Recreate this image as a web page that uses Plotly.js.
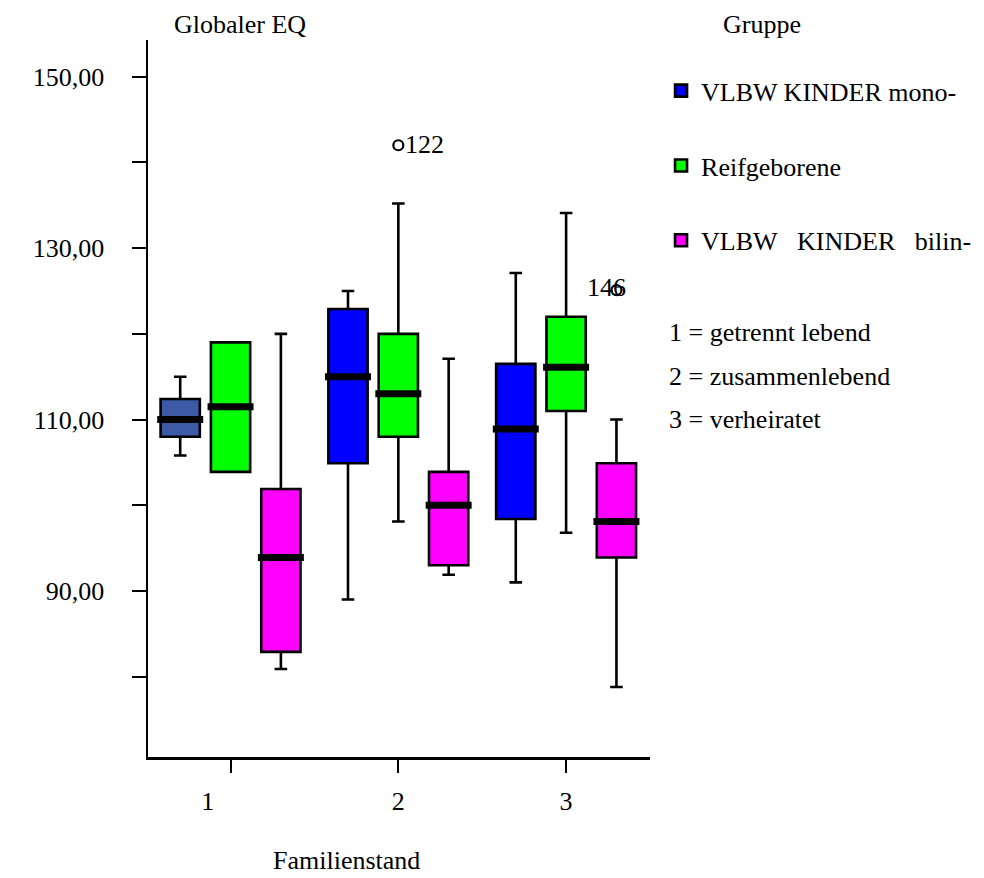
<!DOCTYPE html>
<html>
<head>
<meta charset="utf-8">
<script src="https://cdn.plot.ly/plotly-3.0.1.min.js"></script>
<style>html,body{margin:0;padding:0;background:#fff;}#chart{width:984px;height:878px;}</style>
</head>
<body>
<div id="chart"></div>
<script>
// Categories (Familienstand)
const categories = [1, 2, 3];
const categoryLabels = ["1", "2", "3"];
const categoryNotes = ["1 = getrennt lebend", "2 = zusammenlebend", "3 = verheiratet"];

// Series names (Gruppe)
const seriesNames = ["VLBW KINDER mono-", "Reifgeborene", "VLBW\u00a0\u00a0\u00a0KINDER\u00a0\u00a0\u00a0bilin-"];

// Box statistics per series, one entry per category
const monoLow    = [105.8,  89.0,  91.0];
const monoQ1     = [108.0, 104.9,  98.4];
const monoMedian = [110.0, 115.0, 108.9];
const monoQ3     = [112.4, 122.9, 116.5];
const monoHigh   = [115.0, 125.0, 127.1];

const reifLow    = [103.9,  98.1,  96.8];
const reifQ1     = [103.9, 108.0, 111.0];
const reifMedian = [111.5, 113.0, 116.1];
const reifQ3     = [119.0, 120.0, 122.0];
const reifHigh   = [119.0, 135.2, 134.1];

const biliLow    = [ 80.9,  91.9,  78.8];
const biliQ1     = [ 82.9,  93.0,  93.9];
const biliMedian = [ 93.9, 100.0,  98.1];
const biliQ3     = [101.9, 103.9, 104.9];
const biliHigh   = [120.0, 117.1, 110.0];

// Outliers: series index, category, value, case label
const outlierSeries   = [1, 2];
const outlierCategory = [2, 3];
const outlierValue    = [142.0, 125.1];
const outlierLabel    = ["122", "146"];

// Y ticks
const yTickVals = [80, 90, 100, 110, 120, 130, 140, 150];
const yTickText = ["", "90,00", "", "110,00", "", "130,00", "", "150,00"];

// ---- styling ----
const FONT = "Liberation Serif";
const FS = 26;
const fills = ["#0000ff", "#00ff00", "#ff00ff"];
const firstMonoFill = "#3c5aa6";
const offsets = [-0.30, 0, 0.30];
const boxWidth = 0.234;
const medWidth = boxWidth + 0.04;

const stats = [
  {low: monoLow, q1: monoQ1, med: monoMedian, q3: monoQ3, high: monoHigh},
  {low: reifLow, q1: reifQ1, med: reifMedian, q3: reifQ3, high: reifHigh},
  {low: biliLow, q1: biliQ1, med: biliMedian, q3: biliQ3, high: biliHigh}
];

function pick(arr, idx) { return idx.map(i => arr[i]); }

const traces = [];
const medianTraces = [];
stats.forEach((s, si) => {
  let parts;
  if (si === 0) {
    parts = [{idx: [0], fill: firstMonoFill, legend: false}, {idx: [1, 2], fill: fills[0], legend: true}];
  } else {
    parts = [{idx: [0, 1, 2], fill: fills[si], legend: true}];
  }
  parts.forEach(p => {
    traces.push({
      type: "box",
      name: seriesNames[si],
      legendgroup: "g" + si,
      legendrank: si + 1,
      showlegend: p.legend,
      x: p.idx.map(i => categories[i] + offsets[si]),
      q1: pick(s.q1, p.idx),
      median: pick(s.med, p.idx),
      q3: pick(s.q3, p.idx),
      lowerfence: pick(s.low, p.idx),
      upperfence: pick(s.high, p.idx),
      width: boxWidth,
      whiskerwidth: 0.32,
      fillcolor: p.fill,
      line: {color: "#000000", width: 2.6},
      boxpoints: false,
      hoverinfo: "skip"
    });
  });
  // thick median bar
  medianTraces.push({
    type: "box",
    showlegend: false,
    x: categories.map(c => c + offsets[si]),
    q1: s.med, median: s.med, q3: s.med,
    lowerfence: s.med, upperfence: s.med,
    width: medWidth,
    whiskerwidth: 0,
    fillcolor: "rgba(0,0,0,0)",
    line: {color: "#000000", width: 7},
    boxpoints: false,
    hoverinfo: "skip"
  });
});

const outlierX = outlierCategory.map((c, i) => c + offsets[outlierSeries[i]]);
const outlierTrace = {
  type: "scatter",
  mode: "markers",
  showlegend: false,
  x: outlierX,
  y: outlierValue,
  marker: {symbol: "circle-open", size: 10, color: "#000", line: {width: 2.2, color: "#000"}},
  cliponaxis: false,
  hoverinfo: "skip"
};

const outlierAnnotations = outlierLabel.map((t, i) => ({
  xref: "x", yref: "y", x: outlierX[i], y: outlierValue[i],
  text: t, showarrow: false,
  xanchor: i === 0 ? "left" : "center",
  xshift: i === 0 ? 5 : -10,
  yshift: i === 0 ? 1 : 3,
  yanchor: "middle",
  font: {family: FONT, size: FS, color: "#000"}
}));

const noteAnnotations = categoryNotes.map((t, i) => ({
  xref: "paper", yref: "paper",
  x: 1.034, y: [0.592, 0.530, 0.4705][i],
  xanchor: "left", yanchor: "middle",
  text: t, showarrow: false,
  font: {family: FONT, size: FS, color: "#000"}
}));

const layout = {
  width: 984, height: 878,
  margin: {l: 148, r: 334, t: 40, b: 121, autoexpand: false},
  paper_bgcolor: "#fff", plot_bgcolor: "#fff",
  font: {family: FONT, size: FS, color: "#000"},
  boxmode: "overlay",
  showlegend: true,
  legend: {
    x: 1.022, xanchor: "left", y: 0.962, yanchor: "top",
    font: {family: FONT, size: FS, color: "#000"},
    traceorder: "grouped",
    tracegroupgap: 38,
    bgcolor: "rgba(0,0,0,0)"
  },
  xaxis: {
    range: [0.508, 3.5],
    showgrid: false, zeroline: false,
    showline: true, linecolor: "#000", linewidth: 2.5,
    ticks: "outside", ticklen: 13, tickwidth: 2, tickcolor: "#000",
    tickvals: categories,
    ticktext: categoryLabels.map((t, i) => i === 0 ? t + "\u00a0".repeat(7) : t),
    ticklabelstandoff: 6,
    tickfont: {family: FONT, size: FS, color: "#000"}
  },
  yaxis: {
    range: [70.63, 154.28],
    showgrid: false, zeroline: false,
    showline: true, linecolor: "#000", linewidth: 2.5,
    ticks: "outside", ticklen: 14, tickwidth: 2, tickcolor: "#000",
    tickvals: yTickVals, ticktext: yTickText,
    ticklabelstandoff: 22,
    tickfont: {family: FONT, size: FS, color: "#000"}
  },
  annotations: [
    {xref: "paper", yref: "paper", x: 0.048, y: 1.021, xanchor: "left", yanchor: "middle",
     text: "Globaler EQ", showarrow: false, font: {family: FONT, size: FS, color: "#000"}},
    {xref: "paper", yref: "paper", x: 1.141, y: 1.021, xanchor: "left", yanchor: "middle",
     text: "Gruppe", showarrow: false, font: {family: FONT, size: FS, color: "#000"}},
    {xref: "paper", yref: "paper", x: 0.245, y: -0.145, xanchor: "left", yanchor: "middle",
     text: "Familienstand", showarrow: false, font: {family: FONT, size: FS, color: "#000"}}
  ].concat(outlierAnnotations, noteAnnotations)
};

Plotly.newPlot("chart", traces.concat(medianTraces, [outlierTrace]), layout, {displayModeBar: false, staticPlot: true});
</script>
</body>
</html>
